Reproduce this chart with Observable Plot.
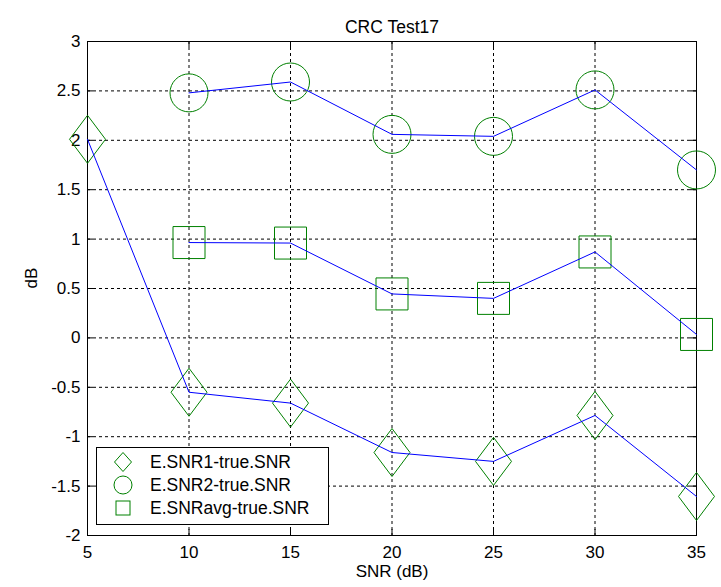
<!DOCTYPE html>
<html>
<head>
<meta charset="utf-8">
<script src="https://cdn.jsdelivr.net/npm/d3@7"></script>
<script src="https://cdn.jsdelivr.net/npm/@observablehq/plot@0.6"></script>
<style>
  html, body { margin: 0; padding: 0; background: white; }
  #wrap { position: relative; width: 721px; height: 587px; }
  #legend { position: absolute; left: 96px; top: 447px; }
</style>
</head>
<body>
<div id="wrap"></div>
<script>
// ---- data ----
const titleText = "CRC Test17";
const xLabel = "SNR (dB)";
const yLabel = "dB";
const snrAll = [5, 10, 15, 20, 25, 30, 35];
const snr1Values = [2.01, -0.55, -0.66, -1.16, -1.25, -0.785, -1.605];
const snrFrom10 = [10, 15, 20, 25, 30, 35];
const snr2Values = [2.48, 2.59, 2.06, 2.04, 2.51, 1.70];
const snrAvgValues = [0.965, 0.96, 0.445, 0.40, 0.87, 0.035];
const seriesNames = ["E.SNR1-true.SNR", "E.SNR2-true.SNR", "E.SNRavg-true.SNR"];
const xTicks = [5, 10, 15, 20, 25, 30, 35];
const yTicks = [-2, -1.5, -1, -0.5, 0, 0.5, 1, 1.5, 2, 2.5, 3];

// ---- build tables ----
const s1 = snrAll.map((x, i) => ({x, y: snr1Values[i]}));
const s2 = snrFrom10.map((x, i) => ({x, y: snr2Values[i]}));
const sa = snrFrom10.map((x, i) => ({x, y: snrAvgValues[i]}));

const xGrid = xTicks.slice(1, -1);
const yGrid = yTicks.slice(1, -1);

const lineBlue = "#0000ff";
const green = "#008000";
const fmt = d => `${d}`;

// custom marker symbols (MATLAB-like)
const tallDiamond = {draw(ctx, size) {
  const r = Math.sqrt(size / Math.PI);
  ctx.moveTo(0, -r); ctx.lineTo(0.75 * r, 0); ctx.lineTo(0, r); ctx.lineTo(-0.75 * r, 0); ctx.closePath();
}};
const squareSym = {draw(ctx, size) {
  const r = Math.sqrt(size / Math.PI);
  ctx.rect(-r, -r, 2 * r, 2 * r);
}};

const W = 721, H = 587, mL = 87, mR = 25, mT = 41, mB = 52;
const fw = W - mL - mR, fh = H - mT - mB, tick = 6;

const chart = Plot.plot({
  width: W, height: H,
  marginLeft: mL, marginRight: mR, marginTop: mT, marginBottom: mB,
  x: {domain: [5, 35]},
  y: {domain: [-2, 3]},
  style: {fontFamily: "'Liberation Sans', Arial, sans-serif", fontSize: "17px", background: "white", color: "black"},
  marks: [
    Plot.gridX(xGrid, {stroke: "black", strokeOpacity: 1, strokeDasharray: "3,3"}),
    Plot.gridY(yGrid, {stroke: "black", strokeOpacity: 1, strokeDasharray: "3,3"}),
    Plot.tickX(xTicks, {x: d => d, stroke: "black", insetTop: fh - tick}),
    Plot.tickX(xTicks, {x: d => d, stroke: "black", insetBottom: fh - tick}),
    Plot.tickY(yTicks, {y: d => d, stroke: "black", insetRight: fw - tick}),
    Plot.tickY(yTicks, {y: d => d, stroke: "black", insetLeft: fw - tick}),
    Plot.axisX({ticks: xTicks, tickSize: 0, tickPadding: 10, tickFormat: fmt, label: null}),
    Plot.axisY({ticks: yTicks, tickSize: 0, tickPadding: 7, tickFormat: fmt, label: null}),
    Plot.frame({stroke: "black"}),
    Plot.dot(s1, {x: "x", y: "y", r: 24, symbol: tallDiamond, stroke: green, fill: "none", strokeWidth: 1}),
    Plot.dot(s2, {x: "x", y: "y", r: 19, symbol: "circle", stroke: green, fill: "none", strokeWidth: 1}),
    Plot.dot(sa, {x: "x", y: "y", r: 16, symbol: squareSym, stroke: green, fill: "none", strokeWidth: 1}),
    Plot.line(s1, {x: "x", y: "y", stroke: lineBlue, strokeWidth: 1}),
    Plot.line(s2, {x: "x", y: "y", stroke: lineBlue, strokeWidth: 1}),
    Plot.line(sa, {x: "x", y: "y", stroke: lineBlue, strokeWidth: 1}),
    Plot.text([titleText], {frameAnchor: "top", dy: -21, fill: "black", fontSize: 17.5}),
    Plot.text([xLabel], {frameAnchor: "bottom", dy: 41, fill: "black"}),
    Plot.text([yLabel], {frameAnchor: "left", dx: -56, rotate: -90, fill: "black"})
  ]
});

const wrap = document.getElementById("wrap");
wrap.appendChild(chart);

// ---- legend (overlay inside the axes, lower-left) ----
const lw = 232, lh = 77;
const leg = d3.select(wrap).append("svg")
  .attr("id", "legend")
  .attr("width", lw + 1).attr("height", lh + 1)
  .style("font-family", "'Liberation Sans', Arial, sans-serif")
  .style("font-size", "17.5px");
leg.append("rect").attr("x", 0.5).attr("y", 0.5).attr("width", lw).attr("height", lh)
  .attr("fill", "white").attr("stroke", "black");
const rowY = [15, 38, 61];
const mx = 27;
const glyphs = [
  g => g.append("path").attr("d", "M0,-9.5L8.5,0L0,9.5L-8.5,0Z"),
  g => g.append("circle").attr("r", 9),
  g => g.append("rect").attr("x", -7).attr("y", -7).attr("width", 14).attr("height", 14)
];
seriesNames.forEach((name, i) => {
  const g = leg.append("g").attr("transform", `translate(${mx},${rowY[i]})`);
  glyphs[i](g).attr("fill", "none").attr("stroke", green);
  leg.append("text").attr("x", 54).attr("y", rowY[i]).attr("dy", "0.35em")
    .attr("fill", "black").text(name);
});
</script>
</body>
</html>
